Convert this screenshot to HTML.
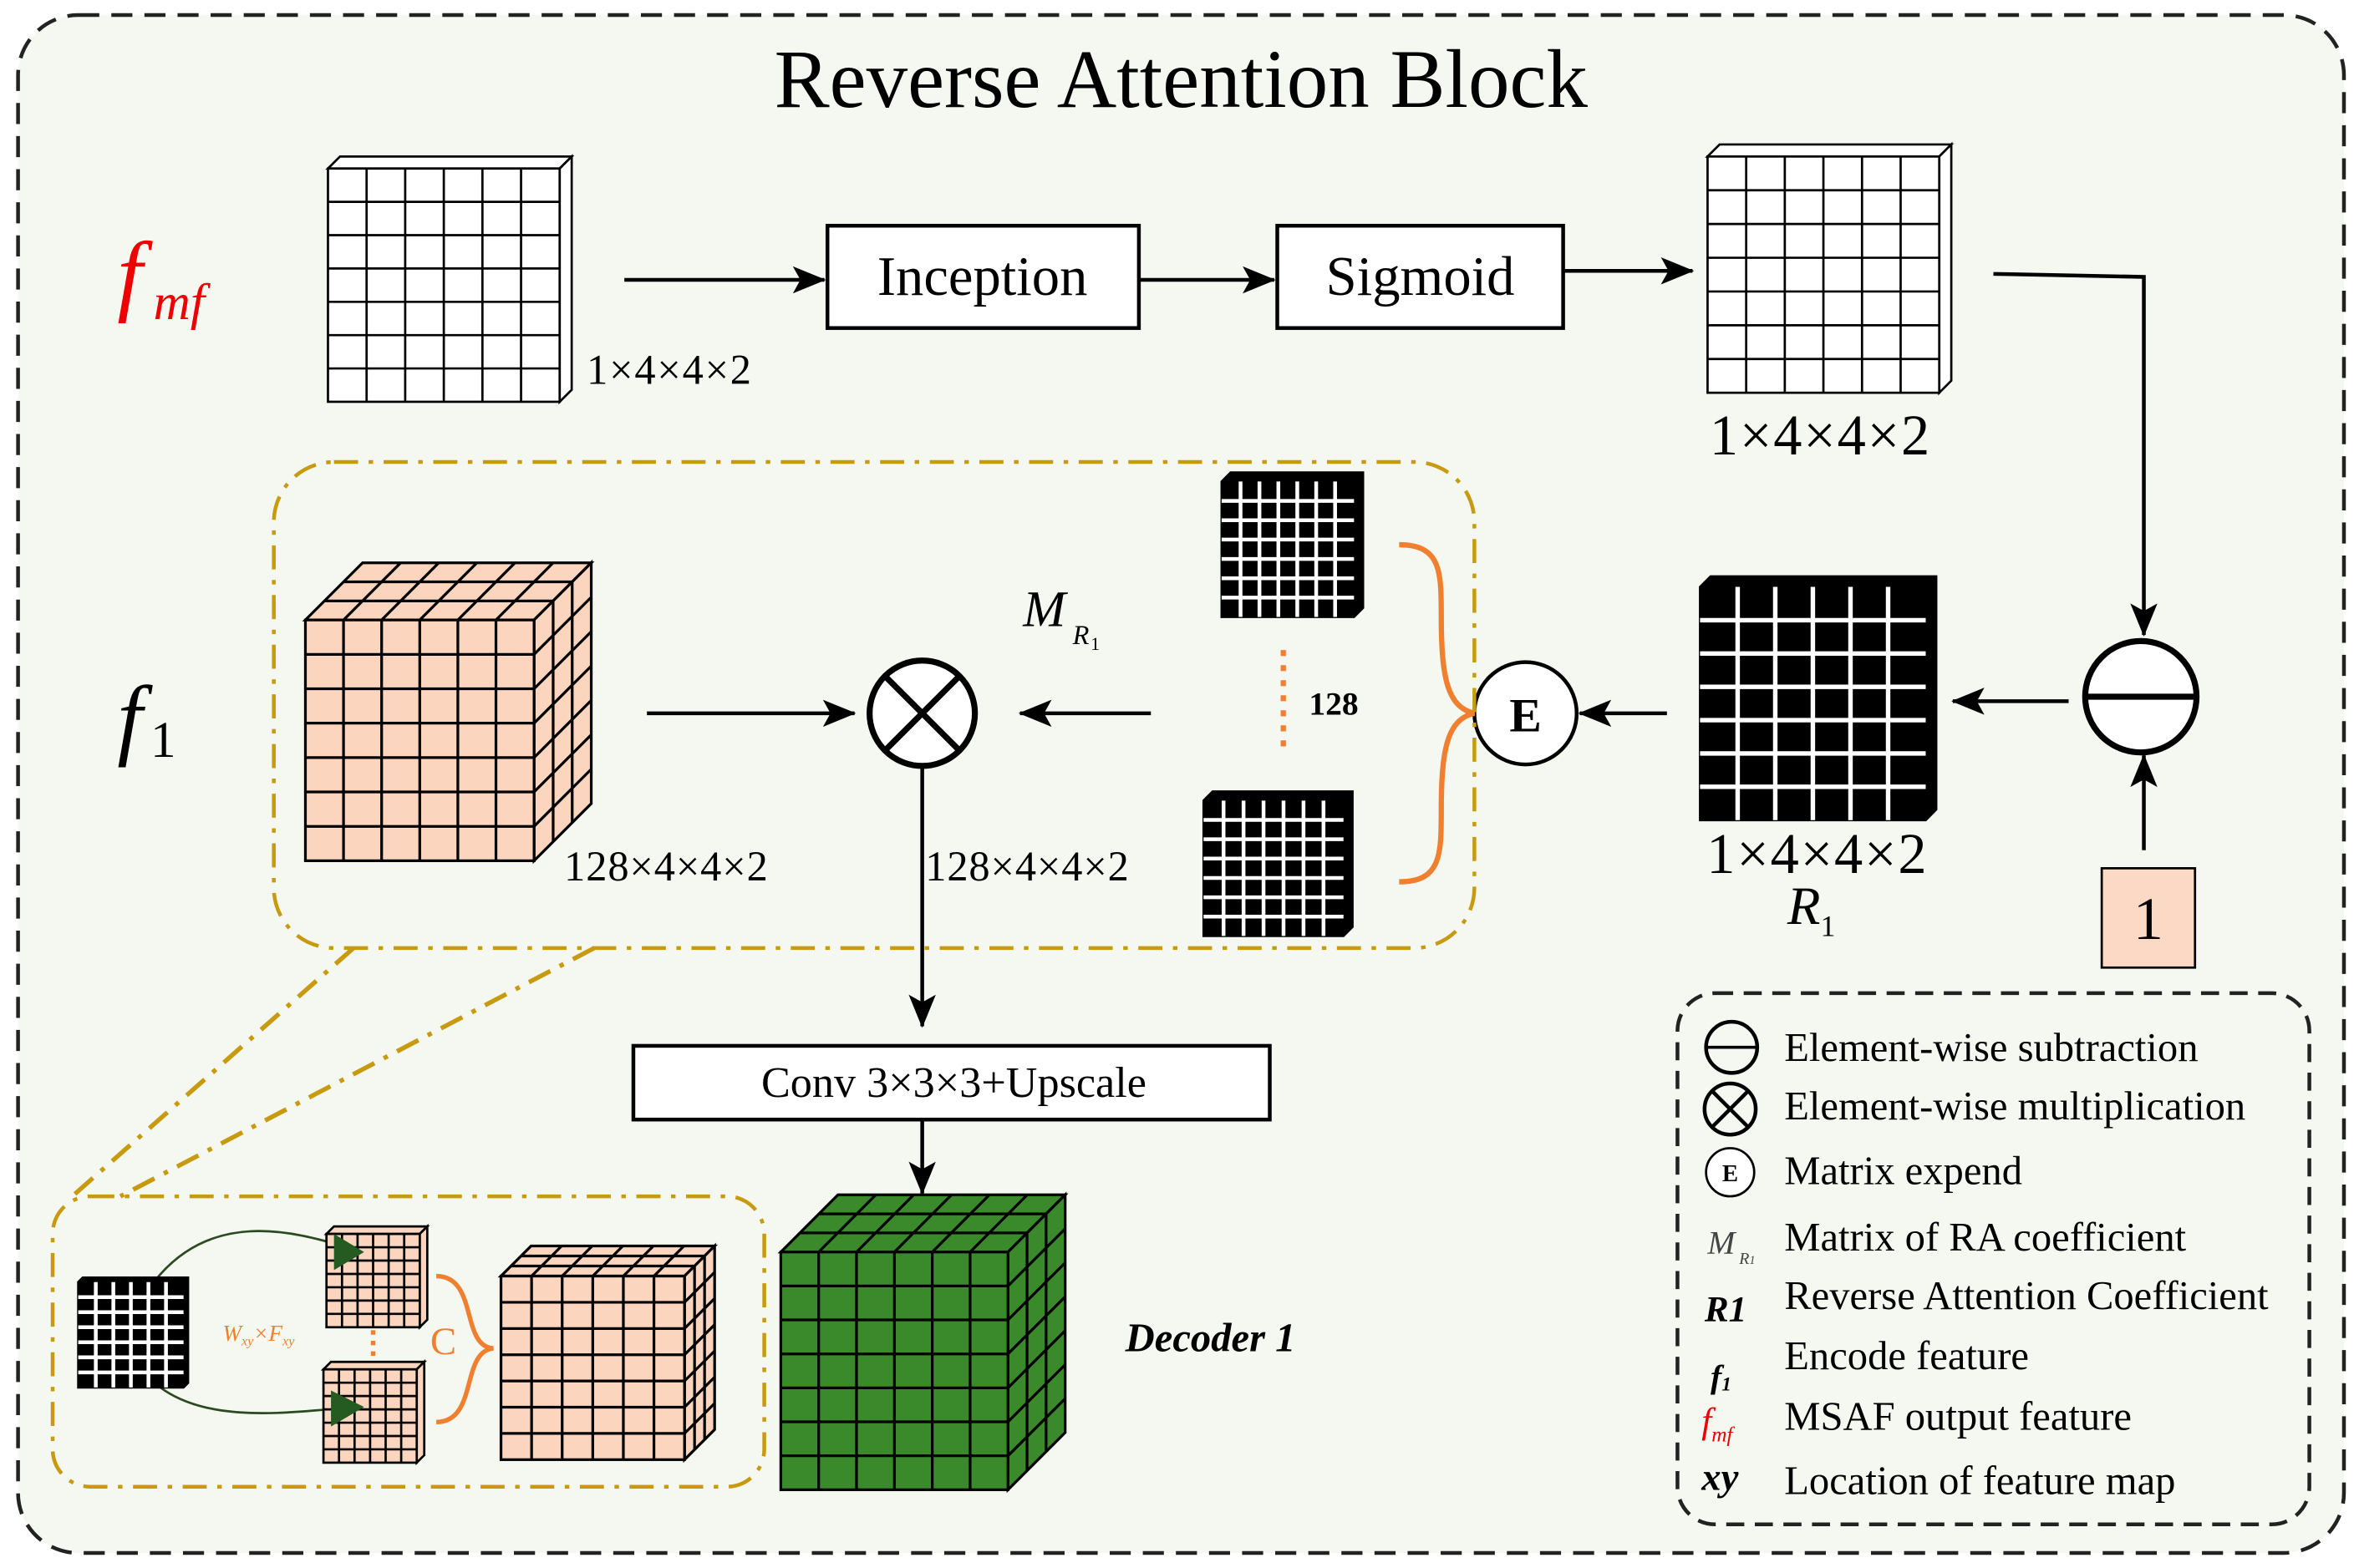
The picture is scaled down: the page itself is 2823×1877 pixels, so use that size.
<!DOCTYPE html>
<html><head><meta charset="utf-8"><style>
html,body{margin:0;padding:0;background:#fff;}
svg{display:block}
text{font-family:"Liberation Serif",serif;}
</style></head><body>
<svg id="s" width="2823" height="1877" viewBox="0 0 1568 1042" preserveAspectRatio="none" xmlns="http://www.w3.org/2000/svg">
<defs>
<marker id="ar" markerWidth="22" markerHeight="18" refX="21" refY="9" orient="auto" markerUnits="userSpaceOnUse" viewBox="0 0 22 18"><path d="M0,0 L22,9 L0,18 L5,9 Z" fill="#000"/></marker>
</defs>
<rect x="12" y="10" width="1546" height="1022" rx="40" fill="#f4f8f0" stroke="#222" stroke-width="2.5" stroke-dasharray="14,8"/>
<text x="785" y="71" font-size="55" text-anchor="middle">Reverse Attention Block</text>
<text x="78" y="202" font-size="60" font-style="italic" fill="#e00">f</text>
<text x="102" y="212" font-size="34" font-style="italic" fill="#e00">mf</text>
<text x="78" y="497" font-size="60" font-style="italic">f</text>
<text x="100" y="503" font-size="34">1</text>
<text x="390" y="255" font-size="28" letter-spacing="1">1×4×4×2</text>
<g id="arrows" stroke="#000" stroke-width="2.5" fill="none">
<line x1="415" y1="186" x2="548" y2="186" marker-end="url(#ar)"/>
<line x1="757" y1="186" x2="847" y2="186" marker-end="url(#ar)"/>
<line x1="1040" y1="180" x2="1125" y2="180" marker-end="url(#ar)"/>
<polyline points="1325,182 1425,184 1425,422" marker-end="url(#ar)"/>
<line x1="1425" y1="565" x2="1425" y2="502" marker-end="url(#ar)"/>
<line x1="1375" y1="466" x2="1298" y2="466" marker-end="url(#ar)"/>
<line x1="1108" y1="474" x2="1050" y2="474" marker-end="url(#ar)"/>
<line x1="430" y1="474" x2="568" y2="474" marker-end="url(#ar)"/>
<line x1="765" y1="474" x2="678" y2="474" marker-end="url(#ar)"/>
<line x1="613" y1="510" x2="613" y2="682" marker-end="url(#ar)"/>
<line x1="613" y1="744" x2="613" y2="793" marker-end="url(#ar)"/>
</g>
<rect x="550" y="150" width="207" height="68" fill="#fff" stroke="#000" stroke-width="2.5"/>
<text x="653" y="196" font-size="37" text-anchor="middle">Inception</text>
<rect x="849" y="150" width="190" height="68" fill="#fff" stroke="#000" stroke-width="2.5"/>
<text x="944" y="196" font-size="37" text-anchor="middle">Sigmoid</text>
<text x="1210" y="302" font-size="38" text-anchor="middle" letter-spacing="1">1×4×4×2</text>
<circle cx="1423" cy="463" r="37" fill="#fff" stroke="#000" stroke-width="4"/>
<line x1="1386" y1="463" x2="1460" y2="463" stroke="#000" stroke-width="4"/>
<rect x="1397" y="577" width="62" height="66" fill="#fcd9c4" stroke="#000" stroke-width="1.5"/>
<text x="1428" y="624" font-size="40" text-anchor="middle">1</text>
<text x="1208" y="580" font-size="38" text-anchor="middle" letter-spacing="1">1×4×4×2</text>
<text x="1188" y="614" font-size="36" font-style="italic">R</text>
<text x="1210" y="622" font-size="20">1</text>
<circle cx="1014" cy="474" r="34" fill="#fff" stroke="#000" stroke-width="2.5"/>
<text x="1014" y="486" font-size="32" font-weight="bold" text-anchor="middle">E</text>
<path d="M930,362 C958,362 958,380 958,410 C958,450 962,470 980,474 C962,478 958,498 958,538 C958,568 958,586 930,586" fill="none" stroke="#f08030" stroke-width="3.5"/>
<line x1="853" y1="432" x2="853" y2="497" stroke="#f08030" stroke-width="3.5" stroke-dasharray="4,6"/>
<text x="870" y="475" font-size="22" font-weight="bold">128</text>
<rect x="182" y="307" width="798" height="323" rx="40" fill="none" stroke="#c89a10" stroke-width="2.5" stroke-dasharray="16,7,3,7"/>
<circle cx="613" cy="474" r="35" fill="#fff" stroke="#000" stroke-width="4"/>
<line x1="588" y1="449" x2="638" y2="499" stroke="#000" stroke-width="4"/>
<line x1="638" y1="449" x2="588" y2="499" stroke="#000" stroke-width="4"/>
<text x="680" y="416" font-size="34" font-style="italic">M</text>
<text x="713" y="428" font-size="18" font-style="italic">R</text>
<text x="725" y="432" font-size="12">1</text>
<text x="375" y="585" font-size="28" letter-spacing="0.5">128×4×4×2</text>
<text x="615" y="585" font-size="28" letter-spacing="0.5">128×4×4×2</text>
<rect x="421" y="695" width="423" height="49" fill="#fff" stroke="#000" stroke-width="2.5"/>
<text x="634" y="729" font-size="29" text-anchor="middle">Conv 3×3×3+Upscale</text>
<text x="748" y="898" font-size="27" font-weight="bold" font-style="italic">Decoder 1</text>
<line x1="235" y1="630" x2="48" y2="795" stroke="#c89a10" stroke-width="3" stroke-dasharray="16,7,3,7"/>
<line x1="395" y1="630" x2="80" y2="795" stroke="#c89a10" stroke-width="3" stroke-dasharray="16,7,3,7"/>
<rect x="35" y="795" width="473" height="193" rx="25" fill="none" stroke="#c89a10" stroke-width="2.5" stroke-dasharray="16,7,3,7"/>
<path d="M100,855 C140,800 200,820 235,830" fill="none" stroke="#2a4a20" stroke-width="1.5"/>
<path d="M85,895 C110,950 180,940 235,935" fill="none" stroke="#2a4a20" stroke-width="1.5"/>
<g id="cubes"></g>
<path d="M222,820 L242,832 L222,844 Z" fill="#255a20"/>
<path d="M220,924 L242,935 L220,948 Z" fill="#255a20"/>
<text x="148" y="891" font-size="15" font-style="italic" fill="#f08030">W<tspan font-size="9" dy="3">xy</tspan><tspan dy="-3">×F</tspan><tspan font-size="9" dy="3">xy</tspan></text>
<line x1="248" y1="884" x2="248" y2="905" stroke="#f08030" stroke-width="3" stroke-dasharray="3,4"/>
<text x="286" y="900" font-size="26" fill="#f08030">C</text>
<path d="M290,848 C318,848 306,895 328,896 C306,898 318,945 290,945" fill="none" stroke="#f08030" stroke-width="3"/>
<rect x="1115" y="660" width="420" height="353" rx="25" fill="none" stroke="#222" stroke-width="2.5" stroke-dasharray="12,7"/>
<circle cx="1151" cy="696" r="17" fill="none" stroke="#000" stroke-width="2.5"/>
<line x1="1134" y1="696" x2="1168" y2="696" stroke="#000" stroke-width="2"/>
<circle cx="1150" cy="737" r="17" fill="none" stroke="#000" stroke-width="2.5"/>
<line x1="1138" y1="725" x2="1162" y2="749" stroke="#000" stroke-width="2.5"/>
<line x1="1162" y1="725" x2="1138" y2="749" stroke="#000" stroke-width="2.5"/>
<circle cx="1150" cy="779" r="16" fill="#fff" stroke="#000" stroke-width="1.5"/>
<text x="1150" y="785" font-size="16" font-weight="bold" text-anchor="middle">E</text>
<text x="1135" y="833" font-size="22" font-style="italic" fill="#444">M</text>
<text x="1156" y="840" font-size="11" font-style="italic" fill="#444">R<tspan font-size="8">1</tspan></text>
<text x="1133" y="878" font-size="24" font-weight="bold" font-style="italic">R1</text>
<text x="1137" y="922" font-size="22" font-weight="bold" font-style="italic">f<tspan font-size="13" dy="2">1</tspan></text>
<text x="1131" y="952" font-size="24" font-style="italic" fill="#e00">f<tspan font-size="14" dy="6">mf</tspan></text>
<text x="1131" y="990" font-size="26" font-weight="bold" font-style="italic">xy</text>
<g font-size="27">
<text x="1186" y="705">Element-wise subtraction</text>
<text x="1186" y="744">Element-wise multiplication</text>
<text x="1186" y="787">Matrix expend</text>
<text x="1186" y="831">Matrix of RA coefficient</text>
<text x="1186" y="870">Reverse Attention Coefficient</text>
<text x="1186" y="910">Encode feature</text>
<text x="1186" y="950">MSAF output feature</text>
<text x="1186" y="993">Location of  feature map</text>
</g>
</svg>
<script>
var g=document.getElementById('cubes'),out='';
function L(x1,y1,x2,y2,c,w){out+='<line x1="'+x1+'" y1="'+y1+'" x2="'+x2+'" y2="'+y2+'" stroke="'+c+'" stroke-width="'+w+'"/>';}
function cube(x,y,w,h,d,cols,rows,dn,fill,line,edge,lw){
 out+='<polygon points="'+x+','+y+' '+(x+d)+','+(y-d)+' '+(x+w+d)+','+(y-d)+' '+(x+w)+','+y+'" fill="'+fill+'" stroke="'+edge+'" stroke-width="'+lw+'"/>';
 out+='<polygon points="'+(x+w)+','+y+' '+(x+w+d)+','+(y-d)+' '+(x+w+d)+','+(y+h-d)+' '+(x+w)+','+(y+h)+'" fill="'+fill+'" stroke="'+edge+'" stroke-width="'+lw+'"/>';
 out+='<rect x="'+x+'" y="'+y+'" width="'+w+'" height="'+h+'" fill="'+fill+'" stroke="'+edge+'" stroke-width="'+lw+'"/>';
 for(var i=1;i<cols;i++){var xx=x+w*i/cols;L(xx,y,xx,y+h,line,lw);if(dn)L(xx,y,xx+d,y-d,line,lw);}
 for(var j=1;j<rows;j++){var yy=y+h*j/rows;L(x,yy,x+w,yy,line,lw);if(dn)L(x+w,yy,x+w+d,yy-d,line,lw);}
 for(var k=1;k<dn;k++){var o=d*k/dn;L(x+o,y-o,x+w+o,y-o,line,lw);L(x+w+o,y-o,x+w+o,y+h-o,line,lw);}
}
function grid(x,y,w,h,cols,rows,bg,cell,d,lw){
 out+='<polygon points="'+x+','+y+' '+(x+d)+','+(y-d)+' '+(x+w+d)+','+(y-d)+' '+(x+w+d)+','+(y+h-d)+' '+(x+w)+','+(y+h)+' '+x+','+(y+h)+'" fill="'+bg+'" stroke="#000" stroke-width="1.5"/>';
 out+='<rect x="'+x+'" y="'+y+'" width="'+w+'" height="'+h+'" fill="'+bg+'"/>';
 for(var i=1;i<cols;i++){var xx=x+w*i/cols;L(xx,y,xx,y+h,cell,lw);}
 for(var j=1;j<rows;j++){var yy=y+h*j/rows;L(x,yy,x+w,yy,cell,lw);}
}
cube(218,112,154,155,8,6,7,0,'#fff','#000','#000',1.5);
cube(1135,104,154,157,8,6,7,0,'#fff','#000','#000',1.5);
grid(1130,390,150,155,6,7,'#000','#fff',7,3);
grid(812,320,88,90,7,7,'#000','#fff',6,2.5);
grid(800,532,93,90,7,7,'#000','#fff',6,2.5);
grid(52,852,70,70,6,7,'#000','#fff',3,2.5);
cube(203,412,152,160,38,6,7,3,'#fcd5bf','#000','#000',1.8);
cube(519,832,151,158,38,6,7,3,'#3a8a2c','#000','#000',1.8);
cube(217,820,62,62,5,6,7,0,'#fcd5bf','#000','#000',1.5);
cube(215,910,62,62,5,6,7,0,'#fcd5bf','#000','#000',1.5);
cube(333,848,122,122,20,6,7,3,'#fcd5bf','#000','#000',1.8);
g.innerHTML=out;
</script>
</body></html>
